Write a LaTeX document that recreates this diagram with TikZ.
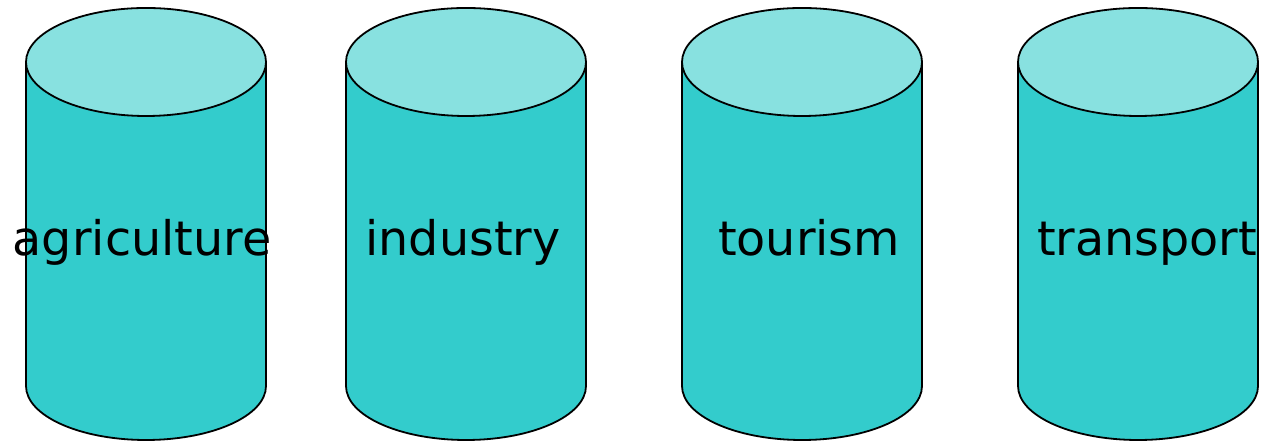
\documentclass[tikz,border=0pt]{standalone}
\usepackage{fontspec}
\setmainfont{DejaVu Sans}
\usetikzlibrary{positioning}
\definecolor{drumbody}{HTML}{33CCCC}
\definecolor{drumtop}{HTML}{88E1E0}

\begin{document}
\begin{tikzpicture}[x=0.5pt, y=0.5pt,
                    drum/.style={draw=black, line width=0.9pt, fill=drumbody},
                    drumlid/.style={draw=black, line width=0.9pt, fill=drumtop},
                    sector/.style={inner sep=0pt, anchor=base, font=\fontsize{23.8}{28}\selectfont}
                    ]
    \useasboundingbox (0,0) rectangle (1262,442);

    % CYLINDERS %
    \foreach \c in {146,466,802,1138}{
    \draw[drum] (\c-120,380) -- (\c-120,56)
        arc[start angle=180, end angle=360, x radius=120, y radius=54]
        -- (\c+120,380) -- cycle;
    \draw[drumlid] (\c,380) ellipse[x radius=120, y radius=54];
    }

    % LABELS %
    \foreach \x/\name/\txt in {142/agri/agriculture, 463/ind/industry, 809/tour/tourism, 1147/trans/transport}
    \node[sector] (\name) at (\x,186) {\txt};
\end{tikzpicture}
\end{document}
